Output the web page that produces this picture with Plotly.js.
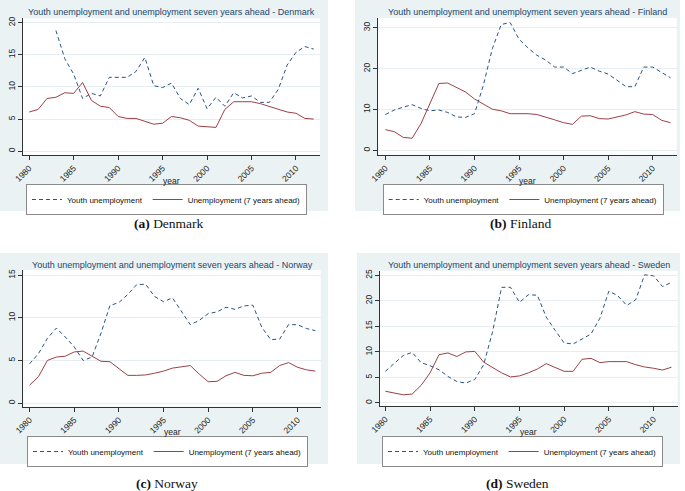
<!DOCTYPE html>
<html>
<head>
<meta charset="utf-8">
<script src="https://cdn.plot.ly/plotly-3.0.1.min.js"></script>
<style>html,body{margin:0;padding:0;background:#fff;}#chart{width:685px;height:491px;}</style>
</head>
<body>
<div id="chart"></div>
<script>
const years = [1980,1981,1982,1983,1984,1985,1986,1987,1988,1989,1990,1991,1992,1993,1994,1995,1996,1997,1998,1999,2000,2001,2002,2003,2004,2005,2006,2007,2008,2009,2010,2011,2012];

const dkYouth = [null,null,null,18.8,14.4,12.0,8.2,9.0,8.6,11.5,11.5,11.5,12.4,14.6,10.2,9.9,10.6,8.2,7.25,9.8,6.6,8.4,7.0,9.1,8.3,8.6,7.6,7.6,9.6,13.4,15.4,16.3,15.9];
const dkUnemp = [6.1,6.5,8.2,8.4,9.1,9.0,10.7,7.9,7.0,6.8,5.4,5.1,5.1,4.6,4.2,4.35,5.4,5.2,4.8,3.9,3.8,3.7,6.5,7.7,7.7,7.7,7.4,7.0,6.5,6.1,5.9,5.1,5.0];

const fiYouth = [8.8,9.9,10.6,11.2,10.3,9.7,9.9,9.3,8.2,8.1,9.0,16.0,24.9,30.8,31.3,27.2,25.1,23.3,22.1,20.4,20.4,18.8,19.6,20.4,19.4,18.7,17.2,15.6,15.6,20.4,20.4,19.1,17.8];
const fiUnemp = [5.1,4.6,3.2,3.0,6.6,11.5,16.4,16.5,15.4,14.3,12.6,11.3,10.1,9.7,9.0,9.0,9.0,8.8,8.2,7.5,6.8,6.4,8.4,8.5,7.8,7.7,8.2,8.7,9.5,8.9,8.8,7.4,6.8];

const noYouth = [4.6,5.8,7.6,8.8,7.75,6.6,5.0,5.4,8.2,11.45,11.8,12.75,13.9,13.95,12.5,11.9,12.35,10.8,9.2,9.7,10.5,10.7,11.25,11.0,11.4,11.5,8.9,7.45,7.5,9.2,9.2,8.75,8.5];
const noUnemp = [2.1,3.1,5.0,5.4,5.5,6.0,6.1,5.5,4.9,4.85,4.0,3.25,3.25,3.3,3.5,3.75,4.1,4.25,4.4,3.4,2.5,2.55,3.2,3.6,3.25,3.2,3.5,3.6,4.4,4.75,4.2,3.9,3.75];

const seYouth = [6.2,7.7,9.3,9.9,7.9,7.3,6.5,5.2,4.2,3.9,4.6,7.5,14.0,22.65,22.65,19.7,21.2,21.1,16.8,14.2,11.75,11.55,12.5,13.5,16.6,21.9,21.0,19.1,20.2,25.1,24.9,22.8,23.6];
const seUnemp = [2.3,1.9,1.6,1.75,3.45,5.9,9.45,9.8,9.1,10.0,10.1,8.0,7.0,5.9,5.1,5.3,5.9,6.65,7.7,7.0,6.2,6.2,8.55,8.75,7.9,8.1,8.1,8.1,7.5,7.05,6.8,6.45,7.0];

const countries = ["Denmark","Finland","Norway","Sweden"];
const captions = ["(a)","(b)","(c)","(d)"];
const seriesNames = ["Youth unemployment","Unemployment (7 years ahead)"];
const yDticks = [5,10,5,5];

const W = 685, H = 491;
const px = v => v / W;
const py = v => 1 - v / H;

const youthData = [dkYouth, fiYouth, noYouth, seYouth];
const unempData = [dkUnemp, fiUnemp, noUnemp, seUnemp];

// panel geometry (pixels): plot area, background, ranges
const panels = [
  {pl:23, pr:320, pt:18.3, pb:155, xr:[1979.3,2012.7], yr:[-0.6,20.7], bg:[0,0,328,211], title:12, xt:180.5, leg:[26,184], cap:[169,223]},
  {pl:378.3, pr:676.7, pt:18, pb:155, xr:[1979.2,2012.7], yr:[-1.1,32.4], bg:[355,0,680,211], title:12, xt:180.5, leg:[382.7,184], cap:[520,223]},
  {pl:23.3, pr:320.7, pt:270, pb:406.7, xr:[1979.3,2012.6], yr:[-0.43,15.62], bg:[0,253,328,464], title:265, xt:432, leg:[27,436], cap:[167,483]},
  {pl:380, pr:677.7, pt:270.7, pb:406, xr:[1979.4,2012.7], yr:[-0.59,25.9], bg:[357,253,680,464], title:265, xt:432, leg:[382,436], cap:[517,483]}
];

const navy = '#2a5382', maroon = '#9c4046';
const tickFont = {family:'Liberation Sans, Arial, sans-serif', size:8.5, color:'#222'};

const data = [];
const layout = {
  width: W, height: H,
  margin: {l:0, r:0, t:0, b:0},
  paper_bgcolor: '#ffffff',
  plot_bgcolor: 'rgba(0,0,0,0)',
  font: {family:'Liberation Sans, Arial, sans-serif', size:8, color:'#222'},
  shapes: [], annotations: []
};

panels.forEach((p, i) => {
  const n = i + 1;
  const xa = n === 1 ? 'x' : 'x' + n;
  const ya = n === 1 ? 'y' : 'y' + n;
  const legName = n === 1 ? 'legend' : 'legend' + n;
  data.push({
    x: years, y: youthData[i], type: 'scatter', mode: 'lines',
    name: seriesNames[0], xaxis: xa, yaxis: ya, legend: legName,
    line: {color: navy, width: 1, dash: '4px,3px'}, connectgaps: false, hoverinfo: 'skip'
  });
  data.push({
    x: years, y: unempData[i], type: 'scatter', mode: 'lines',
    name: seriesNames[1], xaxis: xa, yaxis: ya, legend: legName,
    line: {color: maroon, width: 1}, hoverinfo: 'skip'
  });
  const xKey = n === 1 ? 'xaxis' : 'xaxis' + n;
  const yKey = n === 1 ? 'yaxis' : 'yaxis' + n;
  layout[xKey] = {
    domain: [px(p.pl), px(p.pr)], range: p.xr, anchor: ya,
    tickmode: 'linear', tick0: 1980, dtick: 5, tickangle: -45,
    ticks: 'outside', ticklen: 4, tickcolor: '#333', tickwidth: 1,
    showline: true, linecolor: '#333', linewidth: 1,
    showgrid: false, zeroline: false, tickfont: tickFont, fixedrange: true
  };
  layout[yKey] = {
    domain: [py(p.pb), py(p.pt)], range: p.yr, anchor: xa,
    tickmode: 'linear', tick0: 0, dtick: yDticks[i], tickangle: -90,
    ticks: 'outside', ticklen: 4, tickcolor: '#333', tickwidth: 1,
    showline: true, linecolor: '#333', linewidth: 1,
    showgrid: true, gridcolor: '#e6eef1', gridwidth: 1,
    zeroline: false, tickfont: tickFont, fixedrange: true
  };
  layout[legName] = {
    x: px(p.leg[0]), y: py(p.leg[1]), xanchor: 'left', yanchor: 'top',
    xref: 'paper', yref: 'paper',
    orientation: 'h', bgcolor: '#ffffff', bordercolor: '#8a8a8a', borderwidth: 1,
    font: {family:'Liberation Sans, Arial, sans-serif', size:8, color:'#111'},
    itemwidth: 30, tracegroupgap: 0, itemclick: false, itemdoubleclick: false
  };
  // panel background and plot region
  layout.shapes.push({type:'rect', xref:'paper', yref:'paper', layer:'below',
    x0: px(p.bg[0]), x1: px(p.bg[2]), y0: py(p.bg[3]), y1: py(p.bg[1]),
    fillcolor:'#eaf2f3', line:{width:0}});
  layout.shapes.push({type:'rect', xref:'paper', yref:'paper', layer:'below',
    x0: px(p.pl), x1: px(p.pr), y0: py(p.pb), y1: py(p.pt),
    fillcolor:'#ffffff', line:{width:0}});
  // title
  layout.annotations.push({
    text: 'Youth unemployment and unemployment seven years ahead - ' + countries[i],
    xref:'paper', yref:'paper', x: px((p.pl + p.pr) / 2), y: py(p.title),
    xanchor:'center', yanchor:'middle', showarrow:false,
    font:{family:'Liberation Sans, Arial, sans-serif', size:9, color: '#1a476f'}
  });
  // x axis title
  layout.annotations.push({
    text: 'year', xref:'paper', yref:'paper', x: px((p.pl + p.pr) / 2), y: py(p.xt),
    xanchor:'center', yanchor:'middle', showarrow:false,
    font:{family:'Liberation Sans, Arial, sans-serif', size:8.5, color:'#222'}
  });
  // caption
  layout.annotations.push({
    text: '<b>' + captions[i] + '</b> ' + countries[i], xref:'paper', yref:'paper',
    x: px(p.cap[0]), y: py(p.cap[1]), xanchor:'center', yanchor:'middle', showarrow:false,
    font:{family:'Liberation Serif, DejaVu Serif, serif', size:13.5, color:'#111'}
  });
});

Plotly.newPlot('chart', data, layout, {displayModeBar:false, staticPlot:true});
</script>
</body>
</html>
